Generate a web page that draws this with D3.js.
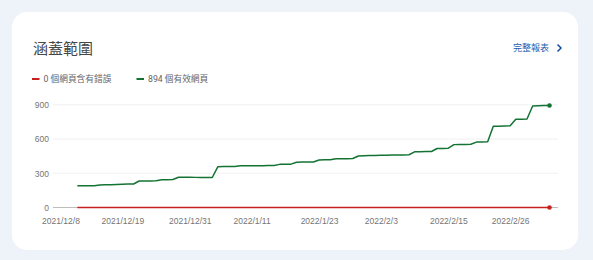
<!DOCTYPE html>
<html lang="zh-Hant">
<head>
    <meta charset="UTF-8">
    <title>涵蓋範圍</title>
    <style>
        body { margin: 0; background: #eef2f9; }
        svg { display: block; font-family: Roboto, "Noto Sans CJK TC", sans-serif; }
        .tick text { fill: #757575; }
    </style>
    <script src="https://cdn.jsdelivr.net/npm/d3@7"></script>
</head>
<body>
<svg width="593" height="260"></svg>
<script>

    // daily values, 2021/12/11 .. 2022/3/5
    const startDate = "2021-12-11";
    const validPages = [
        190, 190, 190, 191, 197, 199, 200, 202, 203, 205, 206,
        232, 232, 233, 234, 243, 244, 245, 265, 265, 265, 264, 264, 263, 263,
        358, 359, 359, 360, 366, 366, 366, 366, 366, 367, 368,
        378, 378, 380, 396, 398, 398, 399, 416, 418, 419, 427, 427, 428, 429,
        451, 453, 455, 456, 457, 458, 459, 460, 461, 462,
        488, 489, 490, 491, 517, 518, 520, 551, 552, 553, 554,
        573, 575, 577, 712, 713, 714, 716, 773, 774, 776, 890, 892, 893, 894
    ];
    const errorPages = validPages.map(() => 0);

    const xTickLabels = ["2021/12/8", "2021/12/19", "2021/12/31", "2022/1/11",
        "2022/1/23", "2022/2/3", "2022/2/15", "2022/2/26"];
    const yTicks = [0, 300, 600, 900];

    const legendLabels = ["0 個網頁含有錯誤", "894 個有效網頁"];
    const seriesColors = ["#c5221f", "#137333"];

    const parse = d3.timeParse("%Y/%-m/%-d");
    const day0 = d3.timeParse("%Y-%m-%d")(startDate);
    const dates = validPages.map((d, i) => d3.timeDay.offset(day0, i));

    const svg = d3.select("svg");

    // card
    svg.append("rect")
        .attr("x", 12).attr("y", 12)
        .attr("width", 566).attr("height", 238)
        .attr("rx", 15)
        .attr("fill", "#ffffff");

    svg.append("text")
        .attr("x", 33).attr("y", 54)
        .attr("font-size", 15)
        .attr("fill", "#444746")
        .text("涵蓋範圍");

    svg.append("text")
        .attr("x", 549).attr("y", 50.5)
        .attr("text-anchor", "end")
        .attr("font-size", 9)
        .attr("fill", "#1a5fb4")
        .text("完整報表");
    svg.append("path")
        .attr("d", "M557.5,44.5 L561,48 L557.5,51.5")
        .attr("fill", "none")
        .attr("stroke", "#174ea6")
        .attr("stroke-width", 1.5);

    // legend
    const legend = svg.append("g").selectAll("g")
        .data(legendLabels).enter().append("g")
        .attr("transform", (d, i) => `translate(${i === 0 ? 32 : 136.5},79)`);
    legend.append("line")
        .attr("x1", 0).attr("x2", 7.5)
        .attr("stroke", (d, i) => seriesColors[i])
        .attr("stroke-width", 2);
    legend.append("text")
        .attr("x", 11.5).attr("y", 3.2)
        .attr("font-size", 8.7)
        .attr("fill", "#5f6368")
        .text(d => d);

    const x = d3.scaleTime()
        .domain([parse(xTickLabels[0]), dates[dates.length - 1]])
        .range([60.5, 549.5]);
    const y = d3.scaleLinear()
        .domain([0, 900])
        .range([207.5, 104.8]);

    const plotLeft = 53, plotRight = 558;

    // grid
    svg.append("g").selectAll("line")
        .data(yTicks.slice(1)).enter().append("line")
        .attr("x1", plotLeft).attr("x2", plotRight)
        .attr("y1", d => y(d)).attr("y2", d => y(d))
        .attr("stroke", "#f1f1f1");
    svg.append("line")
        .attr("x1", plotLeft).attr("x2", plotRight)
        .attr("y1", y(0)).attr("y2", y(0))
        .attr("stroke", "#bdbdbd");

    // y axis labels
    const yAxis = svg.append("g")
        .attr("transform", `translate(${plotLeft - 4},0)`)
        .call(d3.axisLeft(y).tickValues(yTicks).tickSize(0).tickPadding(0));
    yAxis.select(".domain").remove();
    yAxis.selectAll("text").attr("font-size", 8.5).attr("font-family", null);

    // x axis labels
    const xAxis = svg.append("g")
        .attr("transform", `translate(0,${y(0)})`)
        .call(d3.axisBottom(x)
            .tickValues(xTickLabels.map(parse))
            .tickFormat(d3.timeFormat("%Y/%-m/%-d"))
            .tickSize(0).tickPadding(10));
    xAxis.select(".domain").remove();
    xAxis.selectAll("text").attr("font-size", 8.5).attr("font-family", null);

    const line = d3.line()
        .x((d, i) => x(dates[i]))
        .y(d => y(d));

    [errorPages, validPages].forEach(function (series, k) {
        svg.append("path")
            .datum(series)
            .attr("fill", "none")
            .attr("stroke", seriesColors[k])
            .attr("stroke-width", 1.5)
            .attr("stroke-linejoin", "round")
            .attr("d", line);
        svg.append("circle")
            .attr("cx", x(dates[dates.length - 1]))
            .attr("cy", y(series[series.length - 1]))
            .attr("r", 2.3)
            .attr("fill", seriesColors[k]);
    });

</script>
</body>
</html>
